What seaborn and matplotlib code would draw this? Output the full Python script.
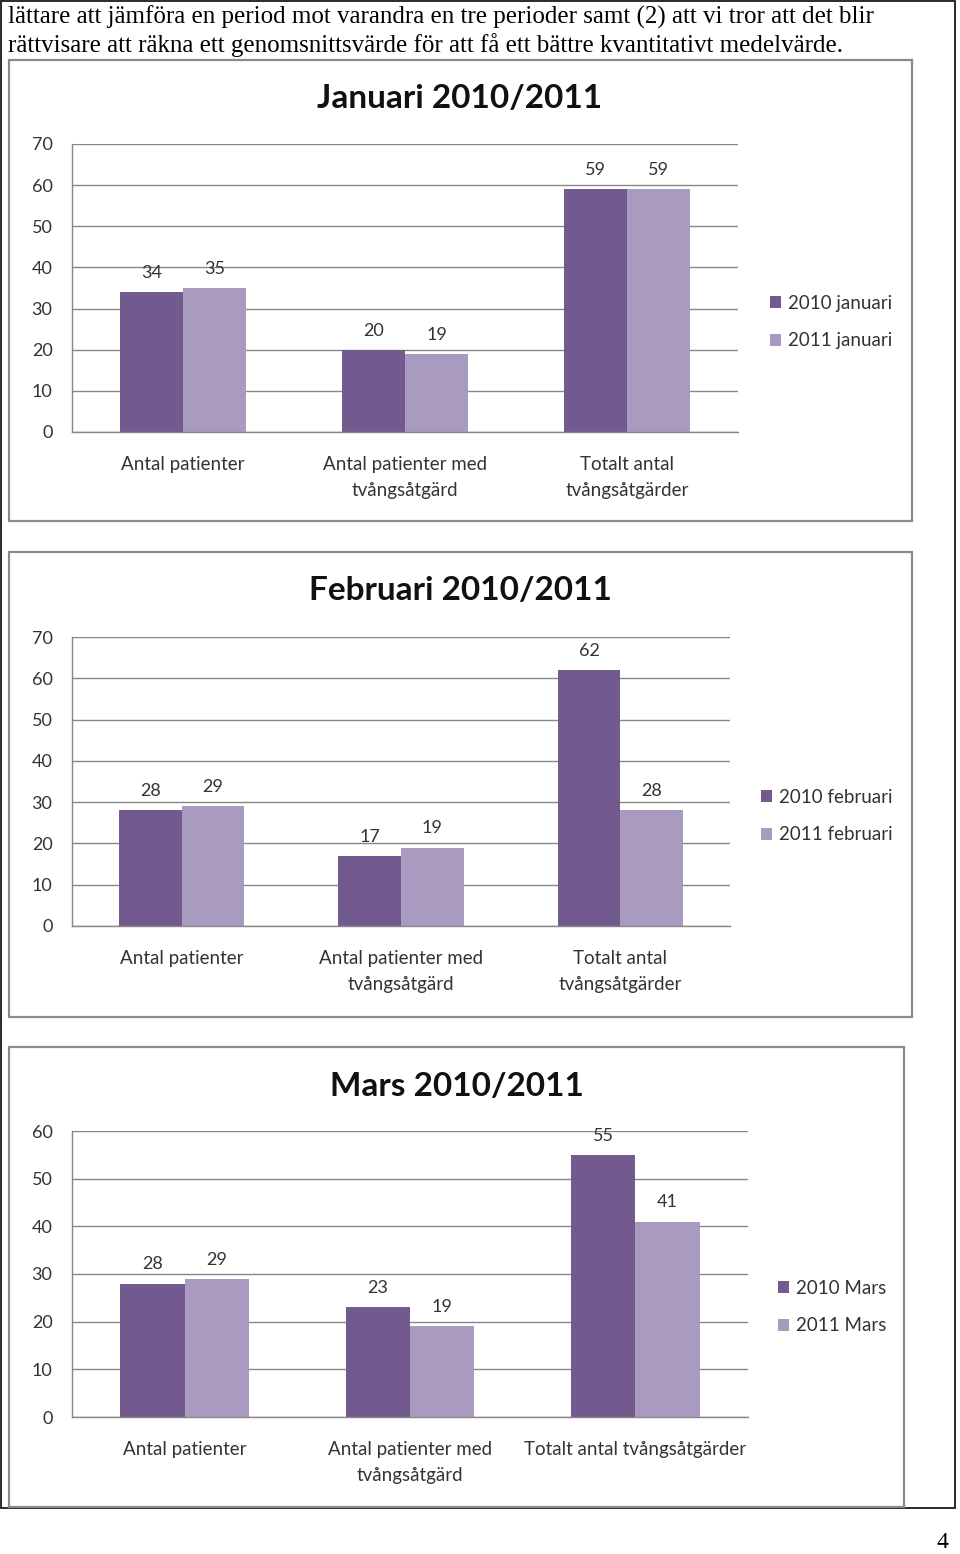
import matplotlib
matplotlib.use("Agg")
import matplotlib.pyplot as plt
import seaborn as sns
import pandas as pd
from matplotlib.patches import Rectangle

# ---------------- data ----------------
intro_lines = [
    "lättare att jämföra en period mot varandra en tre perioder samt (2) att vi tror att det blir",
    "rättvisare att räkna ett genomsnittsvärde för att få ett bättre kvantitativt medelvärde.",
]
page_number = "4"

categories = ["Antal patienter", "Antal patienter med\ntvångsåtgärd", "Totalt antal\ntvångsåtgärder"]
categories_mars = ["Antal patienter", "Antal patienter med\ntvångsåtgärd", "Totalt antal tvångsåtgärder"]

titles = ["Januari 2010/2011", "Februari 2010/2011", "Mars 2010/2011"]
series_names_jan = ["2010 januari", "2011 januari"]
series_names_feb = ["2010 februari", "2011 februari"]
series_names_mar = ["2010 Mars", "2011 Mars"]

jan_2010 = [34, 20, 59]
jan_2011 = [35, 19, 59]
feb_2010 = [28, 17, 62]
feb_2011 = [29, 19, 28]
mar_2010 = [28, 23, 55]
mar_2011 = [29, 19, 41]

y_max = [70, 70, 60]

# ---------------- style ----------------
W, H = 960, 1554
DARK = "#725A8F"
LIGHT = "#A99ABF"
GRID = "#878787"
TXT = "#333333"

sns.set_theme(style="white")
plt.rcParams["font.family"] = ["Lato", "DejaVu Sans"]

fig = plt.figure(figsize=(W / 100, H / 100), dpi=100)
fig.patch.set_facecolor("white")


def fx(x):
    return x / W


def fy(y):
    return 1 - y / H


# layout (pixels): frame box, plot box, title pos, legend pos
layouts = [
    dict(frame=(9, 60, 912, 521), plot=(72, 144, 738, 432), title=(460, 98), legend=(770, 322)),
    dict(frame=(9, 552, 912, 1017), plot=(72, 637, 730, 926), title=(460, 591), legend=(761, 816)),
    dict(frame=(9, 1047, 904, 1507), plot=(72, 1131, 748, 1417), title=(457, 1086), legend=(778, 1307)),
]

chart_data = [
    (categories, series_names_jan, jan_2010, jan_2011),
    (categories, series_names_feb, feb_2010, feb_2011),
    (categories_mars, series_names_mar, mar_2010, mar_2011),
]

# outer page border
fig.add_artist(Rectangle((fx(1), fy(1508)), fx(955) - fx(1), fy(1) - fy(1508),
                         transform=fig.transFigure, fill=False, ec="#2a2a2a", lw=1.4))

for i, (lay, (cats, names, v1, v2)) in enumerate(zip(layouts, chart_data)):
    l, t, r, b = lay["frame"]
    fig.add_artist(Rectangle((fx(l), fy(b)), fx(r) - fx(l), fy(t) - fy(b),
                             transform=fig.transFigure, fill=False, ec="#8a8a8a", lw=1.6))
    pl, pt, pr, pb = lay["plot"]
    ax = fig.add_axes([fx(pl), fy(pb), fx(pr) - fx(pl), fy(pt) - fy(pb)])
    df = pd.DataFrame({
        "kategori": cats * 2,
        "värde": v1 + v2,
        "serie": [names[0]] * len(cats) + [names[1]] * len(cats),
    })
    sns.barplot(data=df, x="kategori", y="värde", hue="serie", palette=[DARK, LIGHT],
                width=0.57, gap=0, saturation=1, errorbar=None, linewidth=0, ax=ax)
    ax.set_ylim(0, y_max[i])
    ax.set_yticks(range(0, y_max[i] + 1, 10))
    ax.set_xlabel("")
    ax.set_ylabel("")
    ax.yaxis.grid(True, color=GRID, lw=1)
    ax.xaxis.grid(False)
    ax.set_axisbelow(True)
    for s in ["top", "right"]:
        ax.spines[s].set_visible(False)
    for s in ["left", "bottom"]:
        ax.spines[s].set_color(GRID)
        ax.spines[s].set_linewidth(1)
    ax.tick_params(axis="y", length=0, pad=14, labelsize=13, labelcolor=TXT)
    ax.tick_params(axis="x", length=0, pad=17, labelsize=13.5, labelcolor=TXT)
    for lab in ax.get_xticklabels():
        lab.set_linespacing(1.65)
    for c in ax.containers:
        ax.bar_label(c, padding=8, fontsize=13, color=TXT, clip_on=False)
    handles, labels = ax.get_legend_handles_labels()
    lx, ly = lay["legend"]
    ax.legend(handles, labels, loc="center left", bbox_to_anchor=(fx(lx), fy(ly)),
              bbox_transform=fig.transFigure, frameon=False, fontsize=13.5,
              handlelength=0.6, handleheight=0.6, handletextpad=0.35,
              labelspacing=1.1, borderpad=0, borderaxespad=0, labelcolor=TXT)
    tx, ty = lay["title"]
    fig.text(fx(tx), fy(ty), titles[i], ha="center", va="center",
             fontsize=24, fontweight="bold", color="#111111")

# intro text
for k, line in enumerate(intro_lines):
    fig.text(fx(8), fy(17 + 28 * k), line, ha="left", va="center",
             family=["Liberation Serif", "DejaVu Serif"], fontsize=18, color="black")

fig.text(fx(948), fy(1543), page_number, ha="right", va="center",
         family=["Liberation Serif", "DejaVu Serif"], fontsize=17, color="black")

fig.savefig("out.png", dpi=100)
